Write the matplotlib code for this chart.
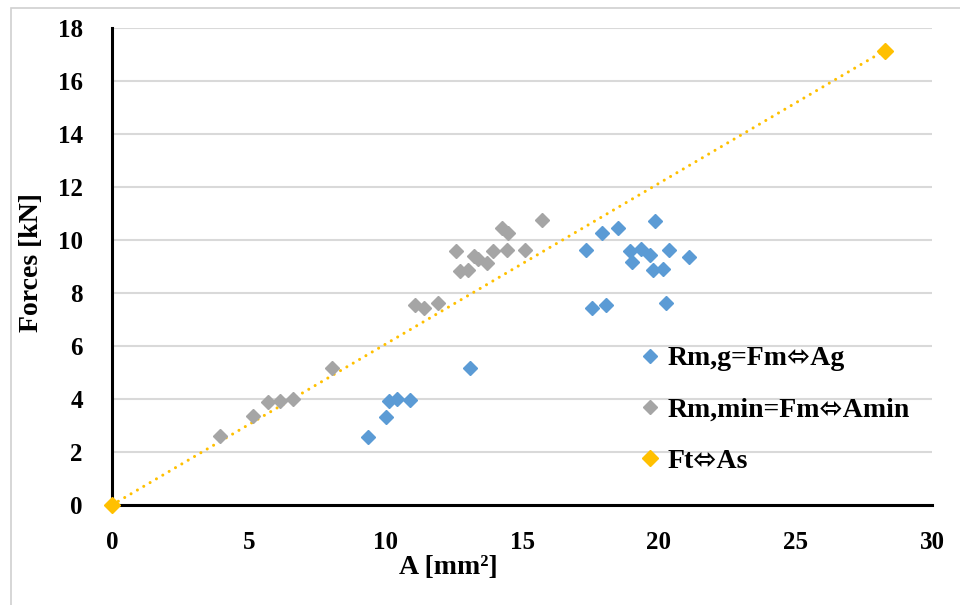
import matplotlib
matplotlib.use("Agg")
import matplotlib.pyplot as plt
from matplotlib.patches import Rectangle

# Data
ag_x = [9.37, 10.01, 10.13, 10.44, 10.90, 13.10, 17.33, 17.55, 17.94, 18.08, 18.50,
        18.95, 19.01, 19.34, 19.69, 19.78, 19.87, 20.17, 20.27, 20.39, 21.12]
ag_y = [2.57, 3.32, 3.92, 3.99, 3.95, 5.16, 9.61, 7.45, 10.28, 7.54, 10.44,
        9.58, 9.17, 9.65, 9.43, 8.87, 10.72, 8.89, 7.64, 9.61, 9.37]

amin_x = [3.95, 5.17, 5.72, 6.15, 6.61, 8.06, 11.09, 11.42, 11.94, 12.57, 12.73,
          13.04, 13.25, 13.40, 13.71, 13.95, 14.26, 14.44, 14.50, 15.11, 15.72]
amin_y = [2.60, 3.36, 3.89, 3.92, 3.99, 5.16, 7.55, 7.45, 7.63, 9.58, 8.83,
          8.86, 9.40, 9.30, 9.14, 9.58, 10.44, 9.61, 10.28, 9.62, 10.75]

as_x = [0.0, 28.27]
ft_y = [0.0, 17.15]

xticks = [0, 5, 10, 15, 20, 25, 30]
yticks = [0, 2, 4, 6, 8, 10, 12, 14, 16, 18]

labels = ["Rm,g=Fm\u2B04Ag", "Rm,min=Fm\u2B04Amin", "Ft\u2B04As"]

FAM = ["Liberation Serif", "DejaVu Sans"]
plt.rcParams["font.family"] = FAM
plt.rcParams["font.weight"] = "bold"

W, H = 960, 605
fig = plt.figure(figsize=(W / 100, H / 100), dpi=100)
ax = fig.add_axes([112 / W, 1 - 505 / H, (932 - 112) / W, (505 - 28) / H])

blue = "#5B9BD5"
gray = "#A5A5A5"
gold = "#FFC000"

ax.plot(as_x, ft_y, linestyle=(0, (0.01, 2.4)), color=gold, lw=2.2,
        dash_capstyle="round", zorder=2)
ax.plot(ag_x, ag_y, linestyle="none", marker="D", ms=7.1, color=blue,
        mec=blue, label=labels[0], zorder=3)
ax.plot(amin_x, amin_y, linestyle="none", marker="D", ms=7.1, color=gray,
        mec=gray, label=labels[1], zorder=3)
ax.plot(as_x, ft_y, linestyle="none", marker="D", ms=7.8, color=gold,
        mec=gold, label=labels[2], zorder=4, clip_on=False)

ax.set_xlim(0, 30)
ax.set_ylim(0, 18)
ax.set_xticks(xticks)
ax.set_yticks(yticks)
ax.tick_params(axis="both", length=0, labelsize=18)
ax.tick_params(axis="y", pad=21)
ax.tick_params(axis="x", pad=19)
for lab in ax.get_xticklabels() + ax.get_yticklabels():
    lab.set_fontweight("bold")

ax.grid(axis="y", color="#D9D9D9", lw=1.5, zorder=0)
ax.set_axisbelow(True)
for s in ["top", "right"]:
    ax.spines[s].set_visible(False)
for s in ["left", "bottom"]:
    ax.spines[s].set_color("black")
    ax.spines[s].set_linewidth(2.2)
    ax.spines[s].set_zorder(1)

fig.text(448 / W, 1 - 568 / H, "A [mm²]", ha="center", va="center",
         fontsize=20, fontweight="bold")
fig.text(32 / W, 1 - 263 / H, "Forces [kN]", ha="center", va="center",
         rotation=90, fontsize=20, fontweight="bold")

leg = ax.legend(loc="upper left", bbox_to_anchor=(622 / W, 1 - 332 / H),
                bbox_transform=fig.transFigure, frameon=False,
                prop={"family": FAM, "size": 20, "weight": "bold"},
                handletextpad=0.15, labelspacing=0.93, handlelength=1.0,
                borderpad=0, markerscale=1.0)

fig.add_artist(Rectangle((11 / W, -0.05), 2, 1.05 - 8 / H,
                         transform=fig.transFigure, fill=False,
                         edgecolor="#D0D0D0", lw=1.2))

fig.savefig("out.png", dpi=100)
